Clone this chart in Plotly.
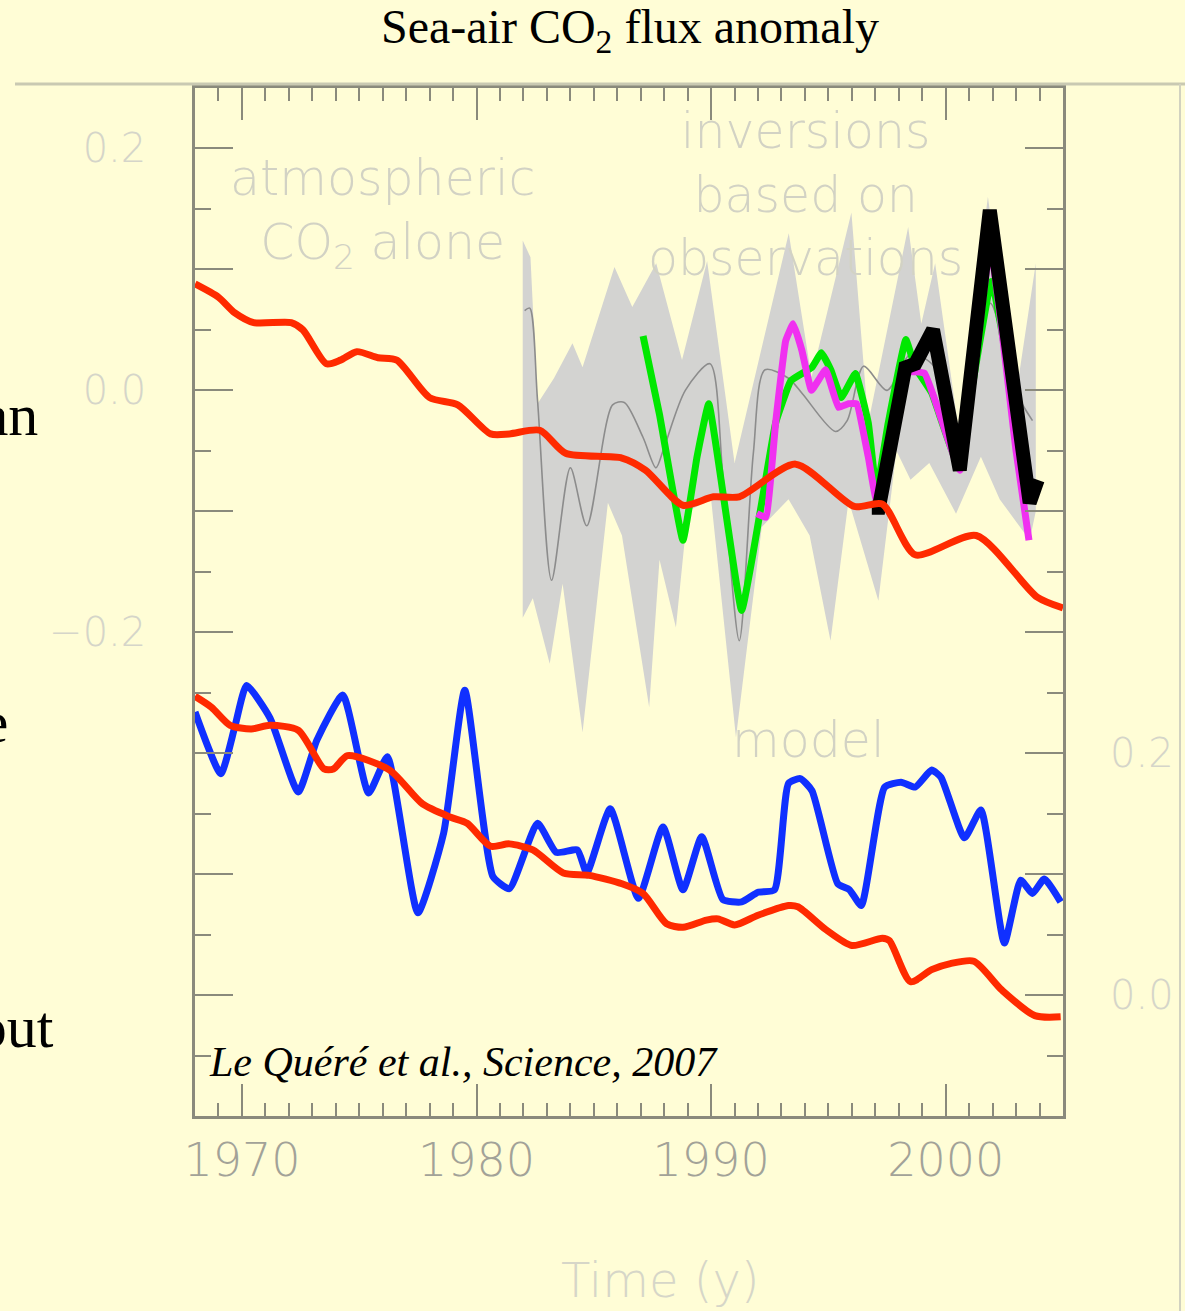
import plotly.graph_objects as go

# ---------------- data ----------------
# upper red curve (left axis units)
red_up_years = [1968.0, 1969.0, 1969.7, 1970.5, 1972.1, 1972.6, 1973.6, 1974.2, 1974.9, 1975.8,
                1976.6, 1978.0, 1979.2, 1980.6, 1981.4, 1982.7, 1983.8, 1986.2, 1987.2, 1988.8,
                1990.1, 1991.2, 1993.6, 1996.1, 1997.3, 1998.7, 2001.3, 2003.9, 2005.0]
red_up_vals = [0.088, 0.077, 0.064, 0.056, 0.056, 0.050, 0.022, 0.025, 0.032, 0.027,
               0.025, -0.006, -0.012, -0.036, -0.036, -0.033, -0.052, -0.056, -0.066, -0.095,
               -0.088, -0.088, -0.061, -0.096, -0.094, -0.136, -0.120, -0.171, -0.180]

# grey envelope of atmospheric inversions (left axis units)
band_up_years = [1981.97, 1982.3, 1982.6, 1983.3, 1984.09, 1984.52, 1985.88, 1986.64, 1987.66,
                 1988.76, 1989.83, 1991.0, 1993.31, 1994.28, 1995.98, 1996.7, 1998.4, 1998.96,
                 1999.55, 2000.53, 2001.8, 2002.95, 2003.84]
band_up_vals = [0.124, 0.110, -0.011, 0.010, 0.039, 0.019, 0.102, 0.069, 0.105,
                0.025, 0.107, -0.060, 0.130, 0.011, 0.147, -0.027, 0.135, 0.055,
                0.105, -0.030, 0.160, -0.010, 0.105]
band_lo_years = [1981.97, 1982.4, 1983.12, 1983.67, 1984.52, 1985.6, 1986.2, 1987.36, 1987.8,
                 1988.5, 1989.0, 1990.0, 1991.06, 1992.16, 1993.3, 1994.2, 1995.09, 1995.86,
                 1997.13, 1997.9, 1998.5, 1999.3, 2000.44, 2001.5, 2002.3, 2003.58, 2003.84]
band_lo_vals = [-0.188, -0.172, -0.226, -0.160, -0.283, -0.093, -0.120, -0.262, -0.140,
                -0.196, -0.100, -0.090, -0.287, -0.113, -0.090, -0.120, -0.207, -0.091,
                -0.174, -0.050, -0.074, -0.060, -0.102, -0.055, -0.090, -0.124, -0.100]

# thin grey mean of atmospheric inversions
gline_years = [1982.05, 1982.27, 1982.6, 1983.2, 1984.0, 1984.7, 1985.8, 1986.3, 1987.1, 1987.65,
               1988.0, 1988.9, 1989.95, 1990.5, 1991.2, 1991.8, 1992.3, 1993.3, 1993.9, 1995.3,
               1995.8, 1996.5, 1997.5, 1998.5, 1999.5, 2000.5, 2001.9, 2002.95, 2003.7]
gline_vals = [0.066, 0.068, -0.008, -0.157, -0.064, -0.112, -0.012, -0.010, -0.039, -0.064,
              -0.047, 0.000, 0.022, -0.070, -0.207, -0.052, 0.017, 0.010, -0.003, -0.034,
              -0.025, 0.020, 0.000, 0.030, 0.020, -0.050, 0.072, 0.000, -0.025]

# inversions based on observations
green_years = [1987.1, 1987.8, 1988.8, 1989.4, 1989.9, 1991.3, 1992.2, 1992.75, 1993.4, 1994.3,
               1994.7, 1995.1, 1995.55, 1996.15, 1996.7, 1997.05, 1997.55, 1998.3, 1998.7,
               1999.4, 2000.5, 2001.95, 2003.0, 2003.6]
green_vals = [0.045, -0.020, -0.124, -0.055, -0.011, -0.182, -0.088, -0.027, 0.008, 0.019,
              0.031, 0.017, -0.006, 0.014, -0.027, -0.083, -0.027, 0.042, 0.019,
              -0.002, -0.060, 0.090, -0.020, -0.080]

magenta_years = [1991.95, 1992.33, 1992.75, 1993.18, 1993.5, 1993.87, 1994.28, 1994.88, 1995.43,
                 1995.86, 1996.2, 1996.7, 1997.05, 1998.3, 1999.1, 2000.6, 2001.9, 2003.0, 2003.55]
magenta_vals = [-0.102, -0.105, -0.027, 0.041, 0.055, 0.033, 0.000, 0.017, -0.014,
                -0.011, -0.011, -0.055, -0.091, 0.015, 0.014, -0.066, 0.118, -0.050, -0.124]

black_years = [1996.85, 1997.15, 1998.28, 1998.7, 1999.46, 2000.6, 2001.88, 2003.58, 2003.92]
black_vals = [-0.097, -0.097, 0.019, 0.022, 0.050, -0.066, 0.149, -0.093, -0.074]

# lower panel (right axis units): ocean model
blue_years = [1968.0, 1969.1, 1969.7, 1970.2, 1971.2, 1972.4, 1973.2, 1974.3, 1975.4, 1976.2,
              1977.5, 1978.6, 1979.5, 1980.7, 1981.4, 1982.6, 1983.4, 1984.3, 1984.7, 1985.7,
              1986.9, 1987.95, 1988.8, 1989.6, 1990.5, 1991.3, 1992.0, 1992.7, 1993.3, 1993.8,
              1994.3, 1995.4, 1995.9, 1996.4, 1997.4, 1998.1, 1998.7, 1999.4, 1999.8, 2000.8,
              2001.5, 2002.5, 2003.2, 2003.7, 2004.2, 2004.9]
blue_vals = [0.234, 0.183, 0.222, 0.256, 0.229, 0.168, 0.211, 0.248, 0.167, 0.197,
             0.068, 0.134, 0.252, 0.098, 0.088, 0.142, 0.118, 0.120, 0.101, 0.154,
             0.080, 0.139, 0.087, 0.131, 0.079, 0.077, 0.085, 0.087, 0.175, 0.179,
             0.169, 0.092, 0.087, 0.074, 0.172, 0.176, 0.172, 0.186, 0.180, 0.130,
             0.153, 0.043, 0.095, 0.084, 0.096, 0.077]

red_lo_years = [1968.0, 1968.7, 1969.5, 1970.4, 1971.2, 1972.4, 1973.5, 1973.9, 1974.5, 1976.3,
                1977.7, 1978.9, 1979.6, 1980.6, 1981.4, 1982.4, 1983.7, 1984.8, 1986.2, 1987.1,
                1988.1, 1988.8, 1989.8, 1990.3, 1991.0, 1992.0, 1993.3, 1993.7, 1994.9, 1996.0,
                1997.3, 1997.6, 1998.5, 1999.4, 2000.2, 2001.2, 2002.4, 2003.8, 2004.9]
red_lo_vals = [0.247, 0.238, 0.223, 0.220, 0.223, 0.219, 0.187, 0.187, 0.198, 0.186,
               0.158, 0.147, 0.142, 0.123, 0.125, 0.120, 0.101, 0.099, 0.092, 0.084,
               0.059, 0.056, 0.062, 0.063, 0.058, 0.066, 0.074, 0.073, 0.054, 0.041,
               0.047, 0.045, 0.011, 0.021, 0.026, 0.028, 0.004, -0.017, -0.018]

x_ticks = [1970, 1980, 1990, 2000]
y_left_labels = [-0.2, 0.0, 0.2]
y_left_text = ['\u22120.2', '0.0', '0.2']
y_major_ticks = [-0.5, -0.4, -0.3, -0.2, -0.1, 0.0, 0.1, 0.2]
y_right_ticks = [0.0, 0.2]
y_right_text = ['0.0', '0.2']

# ---------------- styling / layout ----------------
W, H = 1185, 1311
L, R, T, B = 195, 1063, 88, 1116
BG = '#FFFDD6'
AX = '#8a8a7c'
RED = '#FF2A00'
BLUE = '#1030FF'
YRANGE = [-0.6, 0.25]


def px2x(px):
    return (px - L) / (R - L)


def py2y(py):
    return (B - py) / (B - T)


fig = go.Figure()

band_x = band_up_years + band_lo_years[::-1]
band_y = band_up_vals + band_lo_vals[::-1]
fig.add_trace(go.Scatter(x=band_x, y=band_y, fill='toself', fillcolor='#D3D3D1',
                         line=dict(width=0), mode='lines', hoverinfo='skip'))
fig.add_trace(go.Scatter(x=gline_years, y=gline_vals, mode='lines',
                         line=dict(color='#8c8c8c', width=1.6, shape='spline', smoothing=0.8)))
fig.add_trace(go.Scatter(x=green_years, y=green_vals, mode='lines',
                         line=dict(color='#00E800', width=7, shape='spline', smoothing=0.3)))
fig.add_trace(go.Scatter(x=magenta_years, y=magenta_vals, mode='lines',
                         line=dict(color='#F030F0', width=7, shape='spline', smoothing=0.3)))
fig.add_trace(go.Scatter(x=black_years, y=black_vals, mode='lines',
                         line=dict(color='#000000', width=14)))
fig.add_trace(go.Scatter(x=red_up_years, y=red_up_vals, mode='lines',
                         line=dict(color=RED, width=7, shape='spline', smoothing=0.7)))
fig.add_trace(go.Scatter(x=blue_years, y=blue_vals, mode='lines', yaxis='y2',
                         line=dict(color=BLUE, width=7, shape='spline', smoothing=0.5)))
fig.add_trace(go.Scatter(x=red_lo_years, y=red_lo_vals, mode='lines', yaxis='y2',
                         line=dict(color=RED, width=7, shape='spline', smoothing=0.7)))

tickfont_x = dict(family='DejaVu Sans', size=46, color='#a2a298', weight=300)
tickfont_y = dict(family='DejaVu Sans', size=40, color='#d5d5c9', weight=300)

fig.update_layout(
    width=W, height=H,
    margin=dict(l=L, r=W - R, t=T, b=H - B, pad=0),
    paper_bgcolor=BG, plot_bgcolor=BG,
    showlegend=False,
    xaxis=dict(range=[1968, 2005], showline=True, linecolor=AX, linewidth=2.5, mirror='ticks',
               ticks='inside', ticklen=32, tickwidth=2, tickcolor=AX,
               tickvals=x_ticks, ticktext=[str(v) for v in x_ticks], tickfont=tickfont_x,
               ticklabelstandoff=2,
               minor=dict(ticks='inside', ticklen=13, tickwidth=2, tickcolor=AX, dtick=1, tick0=1968),
               showgrid=False, zeroline=False),
    yaxis=dict(range=YRANGE, showline=True, linecolor=AX, linewidth=2.5, mirror='ticks',
               ticks='inside', ticklen=38, tickwidth=2, tickcolor=AX,
               tickvals=y_left_labels, ticktext=y_left_text, tickfont=tickfont_y,
               ticklabelstandoff=38,
               minor=dict(ticks='inside', ticklen=16, tickwidth=2, tickcolor=AX, dtick=0.05, tick0=0),
               showgrid=False, zeroline=False),
    yaxis2=dict(range=[YRANGE[0] + 0.5, YRANGE[1] + 0.5], overlaying='y', side='right',
                showline=False, ticks='', tickvals=y_right_ticks, ticktext=y_right_text,
                tickfont=tickfont_y, ticklabelstandoff=46, showgrid=False, zeroline=False),
    # long (unlabelled) ticks every 0.1 on both sides
    yaxis3=dict(range=YRANGE, overlaying='y', side='left', showline=False, mirror='ticks',
                ticks='inside', ticklen=38, tickwidth=2, tickcolor=AX,
                tickvals=y_major_ticks, showticklabels=False,
                showgrid=False, zeroline=False),
)

# dummy trace so the tick-only axis is drawn
fig.add_trace(go.Scatter(x=[None], y=[None], yaxis='y3', mode='lines', hoverinfo='skip'))

# slide frame lines
fig.add_shape(type='line', xref='paper', yref='paper', x0=px2x(15), x1=px2x(1185),
              y0=py2y(84), y1=py2y(84), line=dict(color='#c9c9b2', width=3))
fig.add_shape(type='line', xref='paper', yref='paper', x0=px2x(1180), x1=px2x(1180),
              y0=py2y(84), y1=py2y(1311), line=dict(color='#d2d2c0', width=2))

serif = 'Liberation Serif, Times New Roman, serif'
sans = 'DejaVu Sans, sans-serif'
light = '#d2d2c4'


def note(text, px, py, size, color, family, xanchor='center', weight=None):
    f = dict(family=family, size=size, color=color)
    if weight:
        f['weight'] = weight
    fig.add_annotation(text=text, xref='paper', yref='paper', x=px2x(px), y=py2y(py),
                       xanchor=xanchor, yanchor='middle', showarrow=False, font=f)


note('Sea-air CO<sub>2</sub> flux anomaly', 630, 30, 48, '#000000', serif)
note('atmospheric<br>CO<sub>2</sub> alone', 382, 213, 49, light, sans, weight=300)
note('inversions<br>based on<br>observations', 805, 195, 49, light, sans, weight=300)
note('model', 808, 740, 49, light, sans, weight=300)
note('Time (y)', 660, 1280, 48, '#d6d6c8', sans, weight=300)
note('<i>Le Quéré et al., Science, 2007</i>', 207, 1062, 42, '#000000', serif, xanchor='left')
note('than', 40, 415, 60, '#000000', serif, xanchor='right')
note('the', 10, 722, 60, '#000000', serif, xanchor='right')
note('about', 56, 1027, 60, '#000000', serif, xanchor='right')

fig.write_html('out.html')
